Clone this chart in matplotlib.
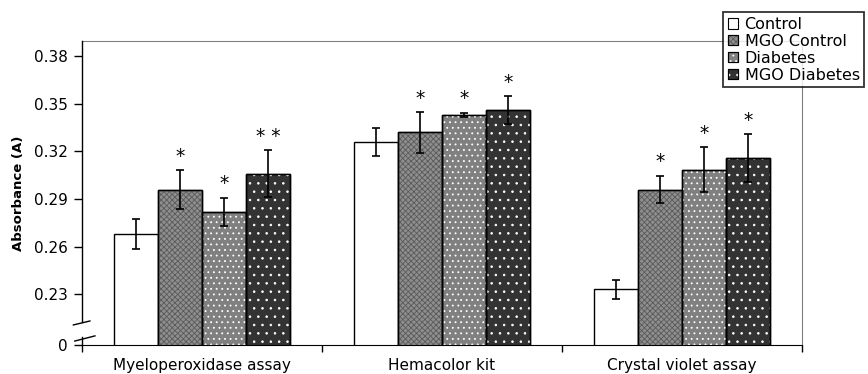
import matplotlib
matplotlib.use("Agg")
import matplotlib.pyplot as plt
import numpy as np
from matplotlib.patches import Patch

# ---------------- data ----------------
categories = ["Myeloperoxidase assay", "Hemacolor kit", "Crystal violet assay"]
series_names = ["Control", "MGO Control", "Diabetes", "MGO Diabetes"]

control = [0.268, 0.326, 0.233]
control_err = [0.0097, 0.009, 0.006]
mgo_control = [0.296, 0.332, 0.296]
mgo_control_err = [0.012, 0.0127, 0.0087]
diabetes = [0.282, 0.343, 0.3085]
diabetes_err = [0.0088, 0.0015, 0.014]
mgo_diabetes = [0.306, 0.346, 0.316]
mgo_diabetes_err = [0.015, 0.009, 0.015]

control_sig = ["", "", ""]
mgo_control_sig = ["*", "*", "*"]
diabetes_sig = ["*", "*", "*"]
mgo_diabetes_sig = ["* *", "*", "*"]

ytick_values = [0.23, 0.26, 0.29, 0.32, 0.35, 0.38]
axis_floor = 0.198      # axis bottom (shown as "0" after the break)
axis_top = 0.3896

# ---------------- style ----------------
values = [control, mgo_control, diabetes, mgo_diabetes]
errors = [control_err, mgo_control_err, diabetes_err, mgo_diabetes_err]
sigs = [control_sig, mgo_control_sig, diabetes_sig, mgo_diabetes_sig]
faces = ["white", "#8e8e8e", "#808080", "#333333"]
hatch_over = [None, "xxxxxx", "...", ".."]
hatch_cols = [None, "#5a5a5a", "white", "white"]

plt.rcParams["font.family"] = ["DejaVu Sans"]
plt.rcParams["hatch.linewidth"] = 0.6

fig = plt.figure(figsize=(8.68, 3.74), dpi=100)
ax = fig.add_axes([82 / 868, 1 - 345 / 374, 720 / 868, 304 / 374])

x = np.arange(len(categories))
bw = 0.1833
offsets = (np.arange(4) - 1.5) * bw

for i in range(4):
    xs = x + offsets[i]
    ax.bar(xs, values[i], width=bw, color=faces[i], edgecolor="black",
           linewidth=1.0, zorder=2)
    if hatch_over[i]:
        ax.bar(xs, values[i], width=bw, color="none", edgecolor=hatch_cols[i],
               hatch=hatch_over[i], linewidth=0, zorder=2.5)
        ax.bar(xs, values[i], width=bw, color="none", edgecolor="black",
               linewidth=1.0, zorder=2.6)
    ax.errorbar(xs, values[i], yerr=errors[i], fmt="none", ecolor="black",
                elinewidth=1.2, capsize=3, capthick=1.2, zorder=3)
    for xi, v, e, s in zip(xs, values[i], errors[i], sigs[i]):
        if s:
            ax.annotate(s, (xi, v + e), xytext=(0, 6), textcoords="offset points",
                        ha="center", va="baseline", fontsize=13.5, zorder=4)

ax.set_xlim(-0.5, len(categories) - 0.5)
ax.set_ylim(axis_floor, axis_top)

# x ticks at category boundaries, labels at centres
ax.set_xticks(np.arange(len(categories) + 1) - 0.5)
ax.set_xticklabels([])
ax.set_xticks(x, minor=True)
ax.set_xticklabels(categories, minor=True, fontsize=11)
ax.tick_params(axis="x", which="major", direction="out", length=5, width=1)
ax.tick_params(axis="x", which="minor", length=0, pad=9.5)

ax.set_yticks([axis_floor] + ytick_values)
ax.set_yticklabels(["0"] + [f"{v:.2f}" for v in ytick_values], fontsize=11)
ax.tick_params(axis="y", direction="out", length=6, width=1, pad=4)

ax.set_ylabel("Absorbance (A)", fontsize=9.5, fontweight="bold", labelpad=7)

# spines
ax.spines["top"].set_color("#808080")
ax.spines["right"].set_color("#808080")
ax.spines["bottom"].set_color("black")
ax.spines["left"].set_visible(False)
tr = ax.transAxes
ax.plot([0, 0], [0.0757, 1], transform=tr, color="black", lw=1, clip_on=False, zorder=5)
ax.plot([0, 0], [0, 0.0263], transform=tr, color="black", lw=1, clip_on=False, zorder=5)
ax.plot([-0.012, 0.011], [0.066, 0.079], transform=tr, color="black", lw=1, clip_on=False, zorder=5)
ax.plot([-0.010, 0.018], [0.013, 0.030], transform=tr, color="black", lw=1, clip_on=False, zorder=5)

# legend
handles = []
for i in range(4):
    base = Patch(facecolor=faces[i], edgecolor="black", linewidth=0.8)
    if hatch_over[i]:
        over = Patch(facecolor="none", edgecolor=hatch_cols[i], hatch=hatch_over[i], linewidth=0)
        border = Patch(facecolor="none", edgecolor="black", linewidth=0.8)
        handles.append((base, over, border))
    else:
        handles.append(base)
leg = fig.legend(handles, series_names, loc="upper left",
                 bbox_to_anchor=(723 / 868, 1 - 12 / 374),
                 fontsize=11.5, frameon=True, fancybox=False, shadow=False,
                 handlelength=0.65, handleheight=0.65, handletextpad=0.4,
                 labelspacing=0.12, borderpad=0.3, borderaxespad=0)
leg.get_frame().set_edgecolor("black")
leg.get_frame().set_linewidth(1.3)
leg.get_frame().set_facecolor("white")
leg.set_zorder(10)

fig.savefig("out.png", dpi=100)
